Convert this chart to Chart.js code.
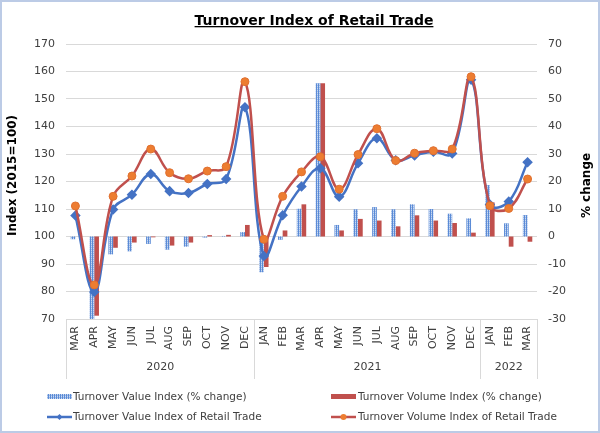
<!DOCTYPE html>
<html>
<head>
<meta charset="utf-8">
<title>Turnover Index of Retail Trade</title>
<script src="https://cdn.jsdelivr.net/npm/chart.js@4.4.0/dist/chart.umd.min.js"></script>
<style>
    html, body { margin: 0; padding: 0; background: #ffffff; }
    #wrap { position: relative; width: 600px; height: 433px; }
</style>
</head>
<body>
<div id="wrap"><canvas id="retailChart" width="600" height="433"></canvas></div>
<script>
// Month categories (Mar 2020 - Mar 2022)
const months = ['MAR', 'APR', 'MAY', 'JUN', 'JUL', 'AUG', 'SEP', 'OCT', 'NOV', 'DEC',
                'JAN', 'FEB', 'MAR', 'APR', 'MAY', 'JUN', 'JUL', 'AUG', 'SEP', 'OCT', 'NOV', 'DEC',
                'JAN', 'FEB', 'MAR'];
// Year groups under the months
const years = ['2020', '2021', '2022'];
const yearSpans = [10, 12, 3];

// % change bars (right axis)
const valueChange  = [-1.0, -30.0, -6.5, -5.4, -2.7, -4.8, -3.7, -0.4, 0.2, 1.6,
                      -13.0, -1.2, 10.1, 55.7, 4.2, 9.9, 10.7, 9.9, 11.7, 10.0, 8.3, 6.6,
                      18.7, 4.8, 7.8];
const volumeChange = [0.0, -28.8, -4.1, -2.2, -0.3, -3.3, -2.2, 0.5, 0.6, 4.2,
                      -11.1, 2.2, 11.7, 55.7, 2.2, 6.4, 5.8, 3.7, 7.7, 5.8, 4.9, 1.4,
                      12.4, -3.7, -1.9];

// Index lines (left axis, 2015=100)
const valueIndex  = [107.6, 79.8, 109.8, 115.2, 122.7, 116.5, 115.8, 119.1, 120.9, 147.0,
                     92.9, 107.7, 118.2, 124.8, 114.5, 126.6, 135.7, 127.7, 129.5, 130.8, 130.2, 157.0,
                     111.6, 112.7, 127.0];
const volumeIndex = [111.1, 82.4, 114.6, 122.0, 131.8, 123.2, 121.0, 123.8, 125.4, 156.3,
                     99.0, 114.6, 123.5, 129.0, 117.2, 129.8, 139.2, 127.6, 130.3, 131.2, 131.8, 158.1,
                     111.2, 110.2, 120.9];

const FONT = '"DejaVu Sans", Verdana, sans-serif';
const BLUE = '#4472C4';
const RED = '#C0504D';
const ORANGE = '#ED7D31';
const GRID = '#D9D9D9';
const TEXT = '#404040';

// striped fill for the value bars
function makeStripes() {
    const c = document.createElement('canvas');
    c.width = 2; c.height = 2;
    const p = c.getContext('2d');
    p.fillStyle = '#5B8BD6'; p.fillRect(0, 0, 1, 2);
    p.fillStyle = '#C9DAF2'; p.fillRect(1, 0, 1, 1);
    p.fillStyle = '#9DB9E8'; p.fillRect(1, 1, 1, 1);
    return p.createPattern(c, 'repeat');
}
const stripes = makeStripes();

// Title, axis titles, year groups, legend and frame
const decorPlugin = {
    id: 'decor',
    afterDraw(chart) {
        const ctx = chart.ctx;
        const xs = chart.scales.x;
        const area = chart.chartArea;
        ctx.save();

        // title (underlined)
        const title = 'Turnover Index of Retail Trade';
        ctx.font = 'bold 14px ' + FONT;
        ctx.fillStyle = '#000';
        ctx.textAlign = 'center';
        ctx.textBaseline = 'alphabetic';
        ctx.fillText(title, 314, 24.5);
        const tw = ctx.measureText(title).width;
        ctx.fillRect(314 - tw / 2, 26, tw, 1.3);

        // axis titles
        const midY = (area.top + area.bottom) / 2;
        ctx.font = 'bold 12px ' + FONT;
        ctx.textBaseline = 'middle';
        [['Index (2015=100)', 13, midY - 6], ['% change', 587, midY + 4]].forEach(([t, x, y]) => {
            ctx.save();
            ctx.translate(x, y);
            ctx.rotate(-Math.PI / 2);
            ctx.fillText(t, 0, 0);
            ctx.restore();
        });

        // year groups and separators
        ctx.strokeStyle = GRID;
        ctx.lineWidth = 1;
        ctx.font = '11px ' + FONT;
        ctx.fillStyle = TEXT;
        const step = xs.getPixelForValue(1) - xs.getPixelForValue(0);
        let start = 0;
        const edges = [area.left];
        years.forEach((yr, i) => {
            const end = start + yearSpans[i] - 1;
            const x0 = xs.getPixelForValue(start) - step / 2;
            const x1 = xs.getPixelForValue(end) + step / 2;
            edges.push(x1);
            ctx.fillText(yr, (x0 + x1) / 2, 367);
            start = end + 1;
        });
        edges.forEach(ex => {
            const px = Math.round(ex) + 0.5;
            ctx.beginPath();
            ctx.moveTo(px, area.bottom);
            ctx.lineTo(px, 379);
            ctx.stroke();
        });

        // legend
        ctx.font = '10.5px ' + FONT;
        ctx.textAlign = 'left';
        ctx.fillStyle = stripes;
        ctx.fillRect(47, 394, 25, 5);
        ctx.fillStyle = RED;
        ctx.fillRect(331, 394, 25, 5);
        ctx.lineWidth = 2.5;
        ctx.strokeStyle = BLUE;
        ctx.beginPath(); ctx.moveTo(47, 417); ctx.lineTo(72, 417); ctx.stroke();
        ctx.fillStyle = BLUE;
        ctx.beginPath();
        ctx.moveTo(59.5, 414); ctx.lineTo(62.5, 417); ctx.lineTo(59.5, 420); ctx.lineTo(56.5, 417);
        ctx.closePath(); ctx.fill();
        ctx.strokeStyle = RED;
        ctx.beginPath(); ctx.moveTo(331, 417); ctx.lineTo(356, 417); ctx.stroke();
        ctx.fillStyle = ORANGE;
        ctx.beginPath(); ctx.arc(343.5, 417, 3, 0, Math.PI * 2); ctx.fill();
        ctx.fillStyle = TEXT;
        ctx.fillText('Turnover Value Index (% change)', 73, 397);
        ctx.fillText('Turnover Volume Index (% change)', 358, 397);
        ctx.fillText('Turnover Value Index of Retail Trade', 73, 417);
        ctx.fillText('Turnover Volume Index of Retail Trade', 358, 417);

        // outer frame
        ctx.strokeStyle = '#BCCBE6';
        ctx.lineWidth = 2;
        ctx.strokeRect(1, 1, 598, 431);
        ctx.restore();
    }
};

Chart.defaults.font.family = FONT;
Chart.defaults.color = TEXT;

new Chart(document.getElementById('retailChart'), {
    type: 'bar',
    data: {
        labels: months,
        datasets: [
            {
                type: 'line',
                label: 'Turnover Volume Index of Retail Trade',
                data: volumeIndex,
                yAxisID: 'y',
                borderColor: RED,
                borderWidth: 2.5,
                tension: 0.4,
                pointStyle: 'circle',
                pointRadius: 4,
                pointBackgroundColor: ORANGE,
                pointBorderColor: '#E07030',
                pointBorderWidth: 1,
                order: 0
            },
            {
                type: 'line',
                label: 'Turnover Value Index of Retail Trade',
                data: valueIndex,
                yAxisID: 'y',
                borderColor: BLUE,
                borderWidth: 2.5,
                tension: 0.4,
                pointStyle: 'rectRot',
                pointRadius: 3.5,
                pointBackgroundColor: BLUE,
                pointBorderColor: BLUE,
                order: 1
            },
            {
                label: 'Turnover Value Index (% change)',
                data: valueChange,
                yAxisID: 'y1',
                backgroundColor: stripes,
                barPercentage: 1.0,
                categoryPercentage: 0.5,
                order: 2
            },
            {
                label: 'Turnover Volume Index (% change)',
                data: volumeChange,
                yAxisID: 'y1',
                backgroundColor: RED,
                barPercentage: 1.0,
                categoryPercentage: 0.5,
                order: 3
            }
        ]
    },
    options: {
        responsive: false,
        animation: false,
        devicePixelRatio: 1,
        layout: { padding: { top: 44, left: 0, right: 0, bottom: 0 } },
        plugins: {
            legend: { display: false },
            title: { display: false },
            tooltip: { enabled: false }
        },
        scales: {
            x: {
                grid: { display: false, drawTicks: false },
                border: { display: true, color: GRID },
                ticks: {
                    autoSkip: false,
                    minRotation: 90,
                    maxRotation: 90,
                    padding: 7,
                    color: TEXT,
                    font: { size: 11 }
                },
                afterFit: (scale) => { scale.height = 433 - 319; }
            },
            y: {
                position: 'left',
                min: 70,
                max: 170,
                ticks: { stepSize: 10, padding: 11, color: TEXT, font: { size: 11 } },
                grid: { color: GRID, drawTicks: false },
                border: { display: false },
                afterFit: (scale) => { scale.width = 66; }
            },
            y1: {
                position: 'right',
                min: -30,
                max: 70,
                ticks: { stepSize: 10, padding: 11, color: TEXT, font: { size: 11 } },
                grid: { display: false, drawTicks: false },
                border: { display: false },
                afterFit: (scale) => { scale.width = 600 - 537; }
            }
        }
    },
    plugins: [decorPlugin]
});
</script>
</body>
</html>
